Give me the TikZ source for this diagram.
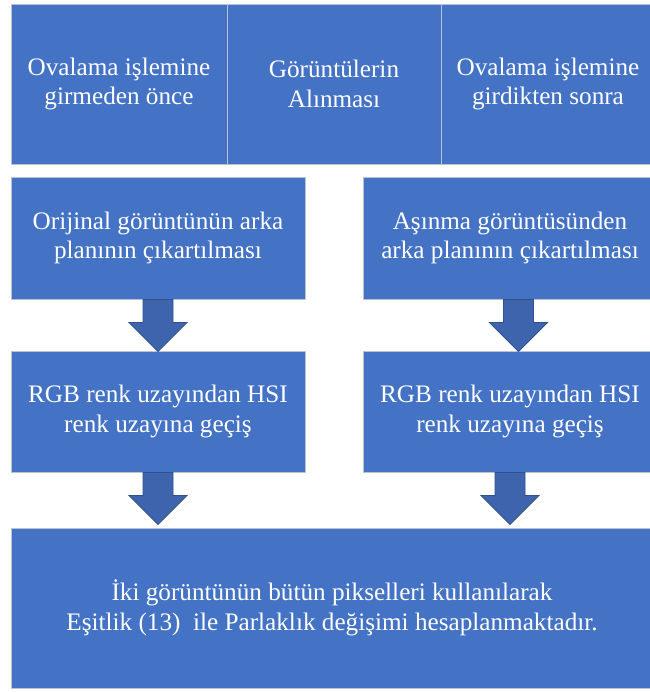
\documentclass[tikz,border=0pt]{standalone}
\usepackage{fontspec}
\setmainfont{Liberation Serif}
\usetikzlibrary{calc}
\definecolor{boxblue}{RGB}{68,114,196}
\definecolor{boxedge}{RGB}{186,194,212}
\definecolor{arrowfill}{RGB}{62,100,174}
\definecolor{arrowedge}{RGB}{47,82,143}
\tikzset{
  stepbox/.style={rectangle, fill=boxblue, draw=boxedge, line width=0.9pt,
    inner sep=0pt, text=white, align=center,
    font=\fontsize{25.2}{29.5}\selectfont},
  downarrow/.pic={
    \draw[fill=arrowfill, draw=arrowedge, line width=0.8pt, line join=miter]
      (-15,0) -- (15,0) -- (15,23) -- (29,23) -- (0,52) -- (-29,23) -- (-15,23) -- cycle;
  }
}
\begin{document}
\begin{tikzpicture}[x=1pt,y=-1pt]
\useasboundingbox (0,0) rectangle (649,692);
\fill[white] (0,0) rectangle (649,692);

% header bar
\node[stepbox, minimum width=216pt, minimum height=160pt] (t1) at (119,84)
  {Ovalama işlemine\\girmeden önce};
\node[stepbox, minimum width=214pt, minimum height=160pt] (t2) at (334,84)
  {Görüntülerin\\Alınması};
\node[stepbox, minimum width=214pt, minimum height=160pt] (t3) at (548,84)
  {Ovalama işlemine\\girdikten sonra};

% left column
\node[stepbox, minimum width=294pt, minimum height=122pt] (l1) at (158,238)
  {Orijinal görüntünün arka\\planının çıkartılması};
\node[stepbox, minimum width=294pt, minimum height=121pt] (l2) at (158,411.5)
  {RGB renk uzayından HSI\\renk uzayına geçiş};

% right column
\node[stepbox, minimum width=294pt, minimum height=122pt] (r1) at (510,238)
  {Aşınma görüntüsünden\\arka planının çıkartılması};
\node[stepbox, minimum width=294pt, minimum height=121pt] (r2) at (510,411.5)
  {RGB renk uzayından HSI\\renk uzayına geçiş};

% result
\node[stepbox, minimum width=642pt, minimum height=160pt] (res) at (332,608)
  {İki görüntünün bütün pikselleri kullanılarak\\Eşitlik (13)\ \ ile Parlaklık değişimi hesaplanmaktadır.};

% block arrows
\pic at (l1.south) {downarrow};
\pic at ($(r1.south)+(8.5,0)$) {downarrow};
\pic at (l2.south) {downarrow};
\pic at (r2.south) {downarrow};
\end{tikzpicture}
\end{document}
